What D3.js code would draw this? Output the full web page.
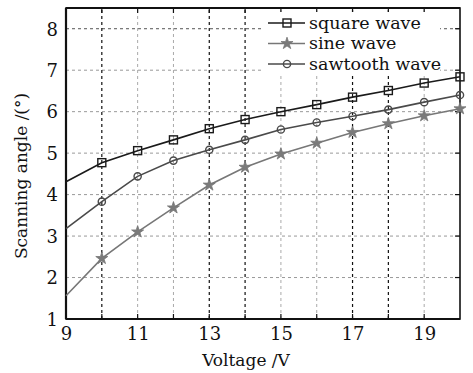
<!DOCTYPE html>
<html><head><meta charset="utf-8">
<script src="https://cdn.jsdelivr.net/npm/d3@7"></script>
<style>body{margin:0;background:#fff}svg{display:block}</style>
</head><body>
<script>
const voltages = [9,10,11,12,13,14,15,16,17,18,19,20];
const squareWave = [4.31,4.77,5.06,5.32,5.59,5.81,6.00,6.17,6.35,6.51,6.69,6.84];
const sineWave = [1.56,2.46,3.10,3.68,4.23,4.66,4.98,5.24,5.50,5.71,5.90,6.07];
const sawtoothWave = [3.18,3.83,4.44,4.82,5.08,5.32,5.57,5.74,5.89,6.05,6.23,6.40];
const xTicks = [9,11,13,15,17,19];
const yTicks = [1,2,3,4,5,6,7,8];
const darkGridX = [10,13,14,17,18];
const lightGridX = [11,12,15,16,19];
const seriesNames = ["square wave","sine wave","sawtooth wave"];

const W=473,H=373;
const m={l:66,t:8,r:13,b:54};
const svg=d3.select("body").append("svg").attr("width",W).attr("height",H);
const x=d3.scaleLinear().domain([9,20]).range([m.l,W-m.r]);
const y=d3.scaleLinear().domain([1,8.5]).range([H-m.b,m.t]);
const font="DejaVu Serif";

// grid
const g=svg.append("g");
g.selectAll(".gy").data(yTicks.slice(1)).join("line")
  .attr("x1",x(9)).attr("x2",x(20)).attr("y1",d=>y(d)).attr("y2",d=>y(d))
  .attr("stroke",(d)=>d===8?"#555":"#999").attr("stroke-width",1).attr("stroke-dasharray","3,3");
g.selectAll(".gxl").data(lightGridX).join("line")
  .attr("x1",d=>x(d)).attr("x2",d=>x(d)).attr("y1",y(1)).attr("y2",y(8.5))
  .attr("stroke","#aaa").attr("stroke-width",1).attr("stroke-dasharray","3,3");
g.selectAll(".gxd").data(darkGridX).join("line")
  .attr("x1",d=>x(d)).attr("x2",d=>x(d)).attr("y1",y(1)).attr("y2",y(8.5))
  .attr("stroke","#111").attr("stroke-width",1.2).attr("stroke-dasharray","3,3");

// axes
const xb=d3.axisBottom(x).tickValues(xTicks).tickSize(0).tickPadding(8).tickFormat(d3.format("d"));
const yl=d3.axisLeft(y).tickValues(yTicks).tickSize(0).tickPadding(8).tickFormat(d3.format("d"));
const xg=svg.append("g").attr("transform",`translate(0,${y(1)})`).call(xb);
const yg=svg.append("g").attr("transform",`translate(${x(9)},0)`).call(yl);
[xg,yg].forEach(a=>{a.select(".domain").remove();a.selectAll("text").attr("font-family",font).attr("font-size",18).attr("fill","#111");});
yg.selectAll("text").attr("dy","0.35em");
// inward ticks bottom, top, right
const allX=d3.range(10,20);
svg.append("g").selectAll("line").data(allX).join("line")
  .attr("x1",d=>x(d)).attr("x2",d=>x(d)).attr("y1",y(1)).attr("y2",y(1)-5).attr("stroke","#111").attr("stroke-width",1.2);
svg.append("g").selectAll("line").data(allX).join("line")
  .attr("x1",d=>x(d)).attr("x2",d=>x(d)).attr("y1",y(8.5)).attr("y2",y(8.5)+5).attr("stroke","#111").attr("stroke-width",1.2);
svg.append("g").selectAll("line").data(yTicks.slice(1)).join("line")
  .attr("x1",x(20)).attr("x2",x(20)-5).attr("y1",d=>y(d)).attr("y2",d=>y(d)).attr("stroke","#111").attr("stroke-width",1.2);
svg.append("rect").attr("x",x(9)).attr("y",y(8.5)).attr("width",x(20)-x(9)).attr("height",y(1)-y(8.5))
  .attr("fill","none").attr("stroke","#111").attr("stroke-width",1.6);
svg.append("line").attr("x1",x(9)).attr("x2",x(20)).attr("y1",y(8.5)).attr("y2",y(8.5)).attr("stroke","#111").attr("stroke-width",2.2);
svg.append("line").attr("x1",x(9)).attr("x2",x(9)).attr("y1",y(8.5)).attr("y2",y(1)).attr("stroke","#111").attr("stroke-width",2.2);
svg.append("line").attr("x1",x(9)).attr("x2",x(20)).attr("y1",y(1)).attr("y2",y(1)).attr("stroke","#111").attr("stroke-width",2.2);

// labels
svg.append("text").attr("x",246).attr("y",366).attr("text-anchor","middle")
  .attr("font-family",font).attr("font-size",17).attr("fill","#111").text("Voltage /V");
svg.append("text").attr("transform","translate(27,176) rotate(-90)").attr("text-anchor","middle")
  .attr("font-family",font).attr("font-size",17).attr("fill","#111").text("Scanning angle /(°)");

// series
const series=[
 {name:seriesNames[0],vals:squareWave,color:"#1a1a1a",marker:"square"},
 {name:seriesNames[1],vals:sineWave,color:"#777",marker:"star"},
 {name:seriesNames[2],vals:sawtoothWave,color:"#4a4a4a",marker:"circle"}
];
const line=d3.line().x((d,i)=>x(voltages[i])).y(d=>y(d));
const starSym=d3.symbol().type(d3.symbolStar).size(45);
function drawMarker(sel,s,cx,cy){
  if(s.marker==="square") sel.append("rect").attr("x",cx-4).attr("y",cy-4).attr("width",8).attr("height",8)
    .attr("fill","none").attr("stroke",s.color).attr("stroke-width",1.4);
  else if(s.marker==="circle") sel.append("circle").attr("cx",cx).attr("cy",cy).attr("r",3.6)
    .attr("fill","none").attr("stroke",s.color).attr("stroke-width",1.4);
  else sel.append("path").attr("d",starSym()).attr("transform",`translate(${cx},${cy})`)
    .attr("fill","#7a7a7a").attr("stroke","#777").attr("stroke-width",0.8);
}
series.forEach(s=>{
  svg.append("path").datum(s.vals).attr("d",line).attr("fill","none").attr("stroke",s.color).attr("stroke-width",1.6);
  const mg=svg.append("g");
  s.vals.forEach((v,i)=>{ if(i>0) drawMarker(mg,s,x(voltages[i]),y(v)); });
});

// legend
const lg=svg.append("g");
lg.append("rect").attr("x",264).attr("y",12).attr("width",176).attr("height",62).attr("fill","#fff");
series.forEach((s,i)=>{
  const cy=23+i*20.5;
  lg.append("line").attr("x1",268).attr("x2",305).attr("y1",cy).attr("y2",cy).attr("stroke",s.color).attr("stroke-width",1.6);
  drawMarker(lg,s,287,cy);
  lg.append("text").attr("x",309).attr("y",cy).attr("dy","0.32em").attr("font-family",font).attr("font-size",17.5)
    .attr("fill","#111").text(s.name);
});
</script>
</body></html>
